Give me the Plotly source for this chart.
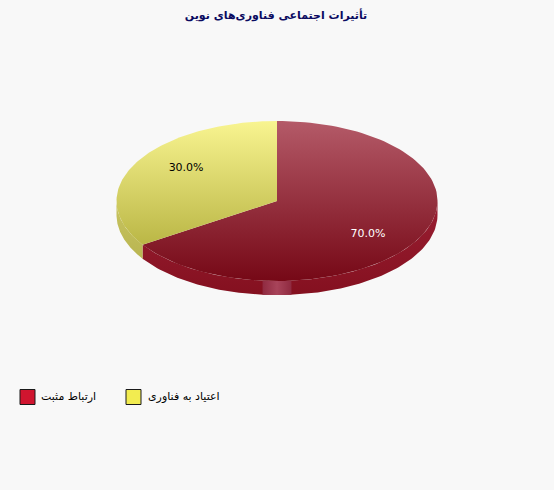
import numpy as np
import plotly.graph_objects as go

title_text = "تأثیرات اجتماعی فناوری‌های نوین"
categories = ["ارتباط مثبت", "اعتیاد به فناوری"]
values = [70, 30]
labels = ["70.0%", "30.0%"]
label_colors = ["#ffffff", "#000000"]
swatch_colors = ["#d0152f", "#f2ec50"]
top_scales = [
    [[0, "#b45a68"], [1, "#760816"]],
    [[0, "#f8f490"], [1, "#a8a530"]],
]
side_scales = [
    [[0, "#9a1f33"], [1, "#84101f"]],
    [[0, "#c8c460"], [1, "#b0ac48"]],
]

W, H = 554, 490
CX, CY, RX, RY, DEPTH = 277, 201, 160.5, 80, 14
LEGEND_Y = 397
LEGEND_X = [27.5, 133.5]
LEGEND_TEXT_X = [42, 149]


def param(theta):
    """Screen-space clockwise angle from 12 o'clock -> ellipse parameter."""
    return np.arctan2(np.sin(theta) / RX, np.cos(theta) / RY) % (2 * np.pi)


def arc(a0, a1, n=120):
    t = np.linspace(a0, a1, n)
    return RX * np.sin(t), RY * np.cos(t)


fig = go.Figure()
total = sum(values)
bounds = np.cumsum([0] + values) / total * 2 * np.pi
tops = []
for i, name in enumerate(categories):
    p0 = param(bounds[i])
    p1 = param(bounds[i + 1])
    if p1 <= p0:
        p1 += 2 * np.pi
    # visible wall: the part of the arc on the lower half of the ellipse
    s0, s1 = max(p0, np.pi / 2), min(p1, 3 * np.pi / 2)
    if s1 > s0:
        x, y = arc(s0, s1)
        fig.add_trace(go.Scatter(
            x=np.r_[x, x[::-1]], y=np.r_[y, y[::-1] - DEPTH],
            mode="lines", line=dict(width=0), fill="toself",
            fillgradient=dict(type="vertical", colorscale=side_scales[i],
                              start=0, stop=-RY - DEPTH),
            hoverinfo="skip", showlegend=False))
    x, y = arc(p0, p1)
    tops.append(go.Scatter(
        x=np.r_[0, x, 0], y=np.r_[0, y, 0],
        mode="lines", line=dict(width=0), fill="toself",
        fillgradient=dict(type="vertical", colorscale=top_scales[i],
                          start=RY, stop=-RY),
        hoverinfo="skip", showlegend=False))

# lighter glint on the wall at the bottom of the pie
hx, hy = arc(np.pi - 0.09, np.pi + 0.09, 20)
fig.add_trace(go.Scatter(
    x=np.r_[hx, hx[::-1]], y=np.r_[hy, hy[::-1] - DEPTH],
    mode="lines", line=dict(width=0), fill="toself",
    fillgradient=dict(type="horizontal",
                      colorscale=[[0, "#8f2a40"], [0.5, "#a8445a"], [1, "#8f2a40"]],
                      start=hx.min(), stop=hx.max()),
    hoverinfo="skip", showlegend=False))

for t in tops:
    fig.add_trace(t)

# percentage labels
mids = (bounds[:-1] + bounds[1:]) / 2
fig.add_trace(go.Scatter(
    x=0.70 * RX * np.sin(mids), y=0.70 * RY * np.cos(mids),
    mode="text", text=labels,
    textfont=dict(family="DejaVu Sans", size=11, color=label_colors),
    hoverinfo="skip", showlegend=False))

# legend swatches
fig.add_trace(go.Scatter(
    x=[v - CX for v in LEGEND_X], y=[CY - LEGEND_Y] * 2, mode="markers",
    marker=dict(symbol="square", size=15, color=swatch_colors,
                line=dict(color="#1a1a1a", width=1)),
    hoverinfo="skip", showlegend=False))

# legend texts
for name, tx in zip(categories, LEGEND_TEXT_X):
    fig.add_annotation(x=tx - CX, y=CY - LEGEND_Y + 1, text=name, showarrow=False,
                       xanchor="left", yanchor="middle", xshift=-3,
                       font=dict(family="DejaVu Sans", size=11, color="#000000"))

fig.update_layout(
    width=W, height=H, autosize=False,
    margin=dict(l=0, r=0, t=0, b=0),
    paper_bgcolor="#f8f8f8", plot_bgcolor="#f8f8f8",
    title=dict(text=title_text, x=276 / W, xanchor="center", y=1 - 15 / H, yanchor="middle",
               font=dict(family="DejaVu Sans", size=11, color="#0a0a60", weight="bold")),
    xaxis=dict(range=[-CX, W - CX], visible=False, fixedrange=True),
    yaxis=dict(range=[CY - H, CY], visible=False, fixedrange=True),
    showlegend=False,
)

fig.write_html("out.html", config=dict(displayModeBar=False),
               post_script="document.body.style.margin='0';")
